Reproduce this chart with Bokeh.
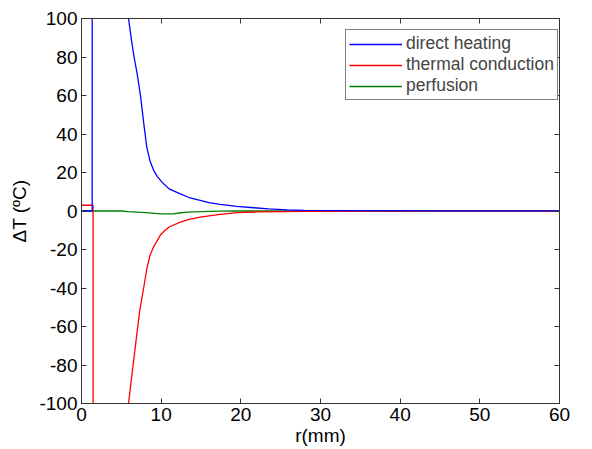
from bokeh.plotting import figure
from bokeh.models import Range1d, FixedTicker, LinearAxis, Legend, LegendItem
from bokeh.embed import file_html
from bokeh.resources import INLINE

# r in mm, delta T in degC
r_direct = [0, 1.34, 1.35, 3.0, 5.9, 6.3, 6.6, 7.0, 7.4, 7.8, 8.2, 8.6, 9.07, 9.5, 10.3,
            11.0, 12.4, 13.5, 14.9, 16.0, 17.4, 19.5, 21.6, 23.5, 25.8, 28, 35, 45, 60]
dt_direct = [0, 0, 400, 400, 100, 88, 80, 71, 60, 46, 33, 26, 21, 18, 14.1,
             11.5, 8.9, 7.0, 5.5, 4.3, 3.4, 2.4, 1.7, 1.1, 0.6, 0.3, 0.2, 0.1, 0.1]

r_cond = [0, 1.3, 1.45, 1.47, 3.0, 5.9, 6.3, 6.8, 7.3, 7.8, 8.2, 8.6, 9.07, 9.9, 10.3,
          11.0, 12.4, 13.5, 14.9, 16.0, 17.4, 19.5, 22, 25.3, 28, 35, 45, 60]
dt_cond = [3, 3, 3, -400, -400, -100, -86, -69, -52, -40, -30, -23, -18.5, -12.5, -10.8,
           -8.3, -5.8, -4.3, -3.2, -2.5, -1.8, -0.8, -0.5, -0.3, -0.2, -0.1, -0.1, -0.1]

r_perf = [0, 5, 5.8, 7, 8.5, 9.9, 11.5, 12.5, 13.2, 15, 17.4, 20, 30, 60]
dt_perf = [0, 0, -0.3, -0.6, -1.0, -1.5, -1.5, -0.9, -0.6, -0.3, -0.1, 0, 0, 0]

x_ticks = [0, 10, 20, 30, 40, 50, 60]
y_ticks = [-100, -80, -60, -40, -20, 0, 20, 40, 60, 80, 100]

FONT = "Liberation Sans"
AX = "#333333"

p = figure(frame_width=478, frame_height=385, output_backend="svg", toolbar_location=None,
           x_range=Range1d(0, 60), y_range=Range1d(-100, 100),
           min_border_left=81, min_border_right=33, min_border_top=18, min_border_bottom=46)
p.grid.visible = False
p.outline_line_color = AX
p.background_fill_color = "white"
p.border_fill_color = "white"

p.xaxis.ticker = FixedTicker(ticks=x_ticks)
p.yaxis.ticker = FixedTicker(ticks=y_ticks)
p.xaxis.major_label_overrides = {t: str(t) for t in x_ticks}
p.yaxis.major_label_overrides = {t: str(t) for t in y_ticks}
p.xaxis.axis_label = "r(mm)"
p.yaxis.axis_label = "ΔT (ºC)"

for ax in [p.xaxis[0], p.yaxis[0]]:
    ax.major_tick_in = 5
    ax.major_tick_out = 0
    ax.minor_tick_line_color = None
    ax.axis_line_color = AX
    ax.major_tick_line_color = AX
    ax.major_label_text_font = FONT
    ax.major_label_text_font_size = "19px"
    ax.major_label_text_color = "black"
    ax.major_label_standoff = 4
    ax.axis_label_text_font = FONT
    ax.axis_label_text_font_size = "19px"
    ax.axis_label_text_font_style = "normal"
    ax.axis_label_text_color = "black"
p.xaxis.axis_label_standoff = 1
p.yaxis.axis_label_standoff = 6

for loc, tk in (("above", x_ticks), ("right", y_ticks)):
    a = LinearAxis(ticker=FixedTicker(ticks=tk))
    a.major_tick_in = 5
    a.major_tick_out = 0
    a.minor_tick_line_color = None
    a.axis_line_color = AX
    a.major_tick_line_color = AX
    a.major_label_text_font_size = "0px"
    a.major_label_standoff = 0
    a.major_label_text_color = None
    p.add_layout(a, loc)

lw = 1.3
g = p.line(r_perf, dt_perf, line_color="#008000", line_width=lw)
rd = p.line(r_cond, dt_cond, line_color="#ff0000", line_width=lw)
b = p.line(r_direct, dt_direct, line_color="#0000ff", line_width=lw)

legend = Legend(items=[LegendItem(label="direct heating", renderers=[b]),
                       LegendItem(label="thermal conduction", renderers=[rd]),
                       LegendItem(label="perfusion", renderers=[g])],
                location=(264, 303), margin=0, padding=3, spacing=0,
                glyph_width=53, glyph_height=18, label_height=18, label_standoff=4,
                label_text_font=FONT, label_text_font_size="17.5px",
                border_line_color="black", border_line_width=1,
                background_fill_color="white", background_fill_alpha=1)
p.add_layout(legend)

open("out.html", "w").write(file_html(p, INLINE))
